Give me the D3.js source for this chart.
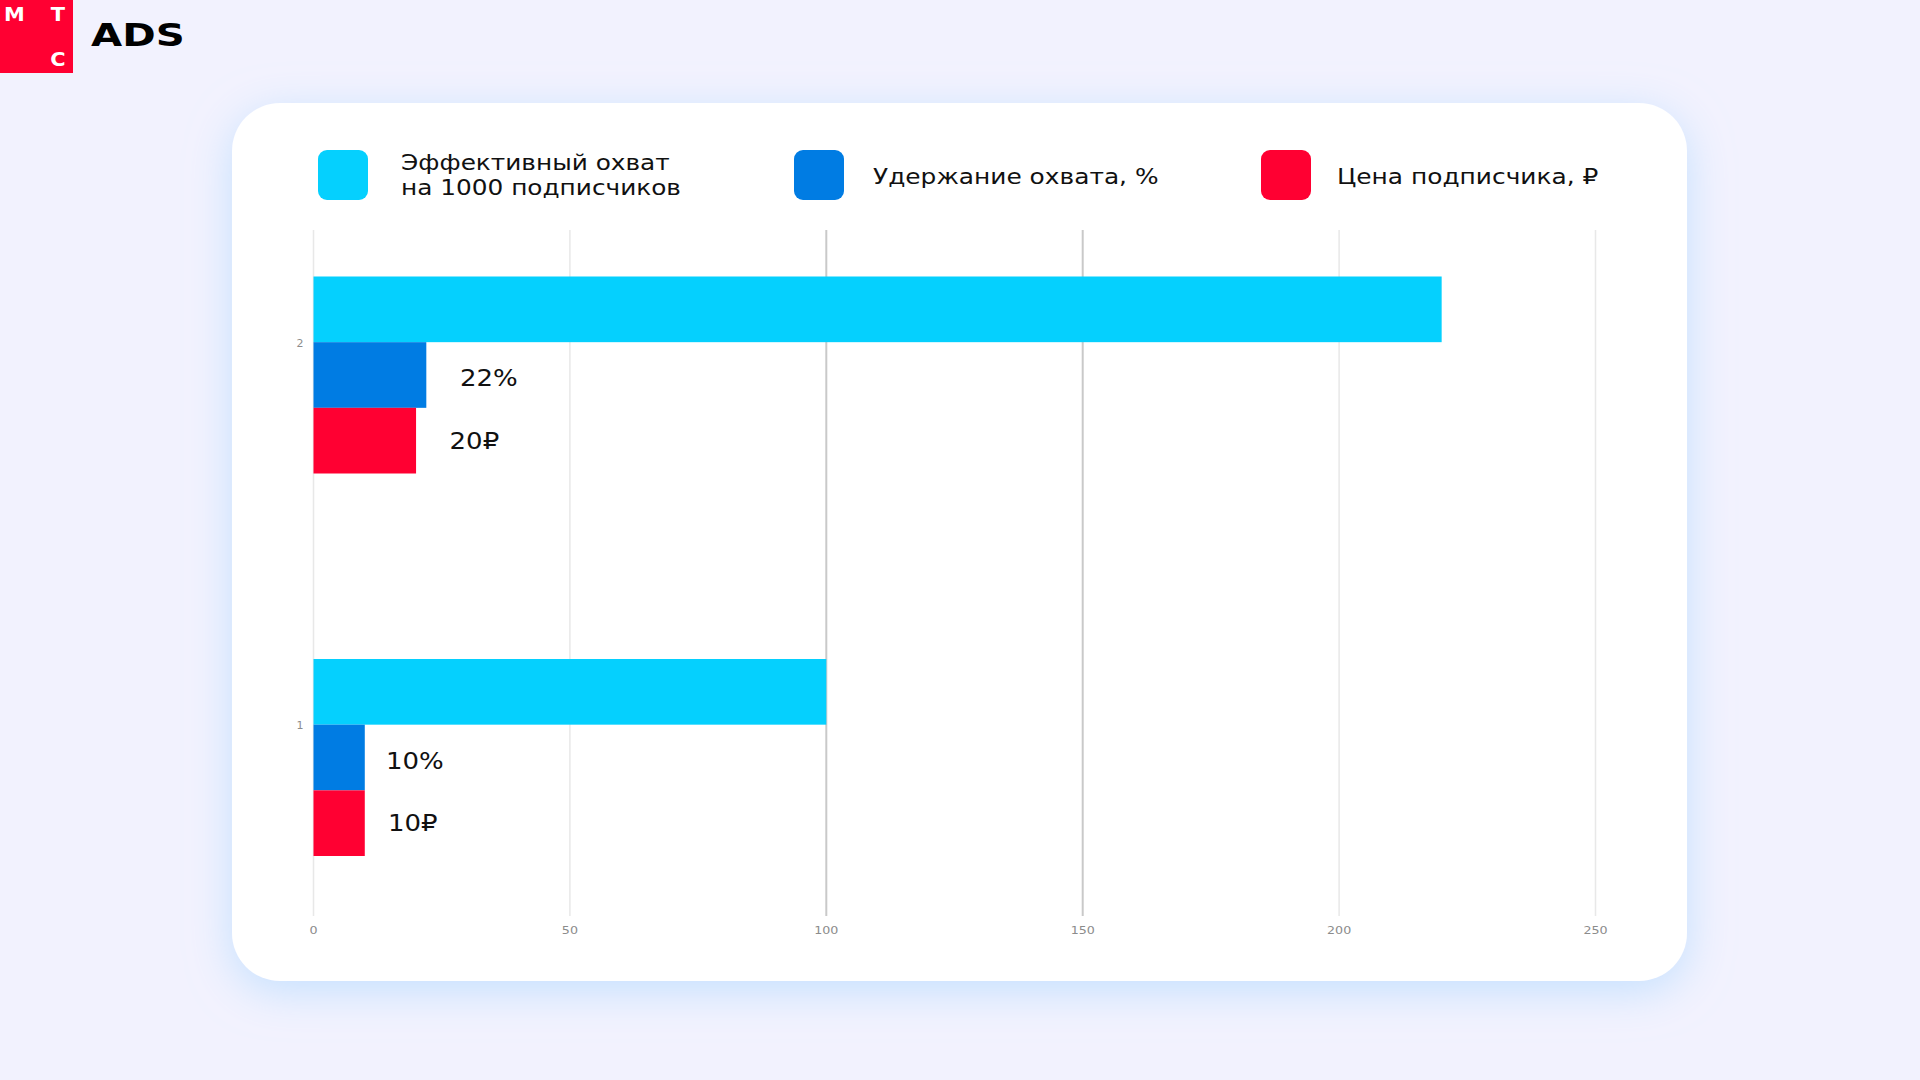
<!DOCTYPE html>
<html>
<head>
<meta charset="utf-8">
<script src="https://cdn.jsdelivr.net/npm/d3@7/dist/d3.min.js"></script>
<style>
  html, body { margin: 0; padding: 0; background: #F2F2FE; }
  svg { display: block; }
  text { font-family: "DejaVu Sans", sans-serif; }
</style>
</head>
<body>
<svg id="chart" width="1920" height="1080"></svg>
<script>
// ---- data ----
const categories = ["2", "1"];
const reach = [220, 100];          // Эффективный охват на 1000 подписчиков
const retention = [22, 10];        // Удержание охвата, %
const price = [20, 10];            // Цена подписчика, ₽
const retentionLabels = ["22%", "10%"];
const priceLabels = ["20₽", "10₽"];
const xTicks = [0, 50, 100, 150, 200, 250];
const seriesNames = [["Эффективный охват", "на 1000 подписчиков"], ["Удержание охвата, %"], ["Цена подписчика, ₽"]];
const seriesKeys = ["reach", "retention", "price"];
const colors = ["#05D0FE", "#007CE3", "#FF0032"];

const SX = 1.13; // horizontal stretch to mimic the wide brand font

const svg = d3.select("#chart");
const defs = svg.append("defs");
const f = defs.append("filter").attr("id", "glow").attr("x", "-10%").attr("y", "-10%").attr("width", "120%").attr("height", "125%");
f.append("feDropShadow").attr("dx", 0).attr("dy", 10).attr("stdDeviation", 22)
  .attr("flood-color", "#b9dcff").attr("flood-opacity", 0.8);

function wtext(g, x, y, str, opts) {
  const t = g.append("text")
    .attr("transform", `translate(${x},${y}) scale(${opts.sx || SX},1)`)
    .attr("font-size", opts.size)
    .attr("fill", opts.fill || "#111")
    .attr("text-anchor", opts.anchor || "start")
    .attr("font-weight", opts.weight || "normal")
    .text(str);
  return t;
}

// ---- logo ----
const logo = svg.append("g");
logo.append("rect").attr("x", 0).attr("y", 0).attr("width", 73).attr("height", 73).attr("fill", "#FF0032");
wtext(logo, 14.5, 21, "М", {size: 19, fill: "#fff", anchor: "middle", weight: "bold", sx: 1.1});
wtext(logo, 58, 21, "Т", {size: 19, fill: "#fff", anchor: "middle", weight: "bold", sx: 1.1});
wtext(logo, 58, 66, "С", {size: 19, fill: "#fff", anchor: "middle", weight: "bold", sx: 1.1});
wtext(logo, 91, 46, "ADS", {size: 31.5, fill: "#000", weight: "bold", sx: 1.28});

// ---- card ----
svg.append("rect").attr("x", 232).attr("y", 103).attr("width", 1455).attr("height", 878)
  .attr("rx", 48).attr("fill", "#fff").attr("filter", "url(#glow)");

// ---- legend ----
const legendX = [318, 794, 1261];
const legend = svg.append("g");
seriesKeys.forEach((k, i) => {
  legend.append("rect").attr("x", legendX[i]).attr("y", 150).attr("width", 50).attr("height", 50)
    .attr("rx", 9).attr("fill", colors[i]);
  const lines = seriesNames[i];
  const tx = legendX[i] + 83 - (i === 1 ? 4 : 0) - (i === 2 ? 7 : 0);
  if (lines.length === 2) {
    wtext(legend, tx, 170, lines[0], {size: 21, sx: 1.18});
    wtext(legend, tx, 195, lines[1], {size: 21, sx: 1.18});
  } else {
    wtext(legend, tx, 184, lines[0], {size: 22});
  }
});

// ---- scales ----
const plotTop = 230, plotBottom = 916;
const x = d3.scaleLinear().domain([0, 250]).range([313.5, 1595.5]);
const y = d3.scalePoint().domain(categories).range([342.5, 725]);
const inner = d3.scaleBand().domain(seriesKeys).range([0, 197]);

// gridlines
const grid = svg.append("g");
grid.selectAll("line").data(xTicks).join("line")
  .attr("x1", d => x(d)).attr("x2", d => x(d))
  .attr("y1", plotTop).attr("y2", plotBottom)
  .attr("stroke", d => (d === 100 || d === 150) ? "#c9c9c9" : "#e8e8e8")
  .attr("stroke-width", d => (d === 100 || d === 150) ? 2 : 1.5);

// x tick labels
xTicks.forEach(d => wtext(grid, x(d), 934, String(d), {size: 11, fill: "#8c8c8c", anchor: "middle", sx: 1.15}));

// category labels
categories.forEach(c => wtext(grid, 300, y(c) + 4, c, {size: 10, fill: "#8c8c8c", anchor: "middle", sx: 1.1}));

// ---- bars ----
const rows = categories.map((c, i) => ({cat: c, reach: reach[i], retention: retention[i], price: price[i],
  retentionLabel: retentionLabels[i], priceLabel: priceLabels[i]}));
const bars = svg.append("g");
rows.forEach(r => {
  const top = y(r.cat) - 66;
  seriesKeys.forEach((k, i) => {
    bars.append("rect")
      .attr("x", x(0)).attr("y", top + inner(k))
      .attr("width", x(r[k]) - x(0)).attr("height", inner.bandwidth())
      .attr("fill", colors[i]);
  });
  // value labels
  wtext(bars, x(r.retention * 1.2) + 11, top + inner("retention") + inner.bandwidth() / 2 + 11, r.retentionLabel, {size: 23});
  wtext(bars, x(r.price * 1.2) + 13, top + inner("price") + inner.bandwidth() / 2 + 8, r.priceLabel, {size: 23});
});
</script>
</body>
</html>
